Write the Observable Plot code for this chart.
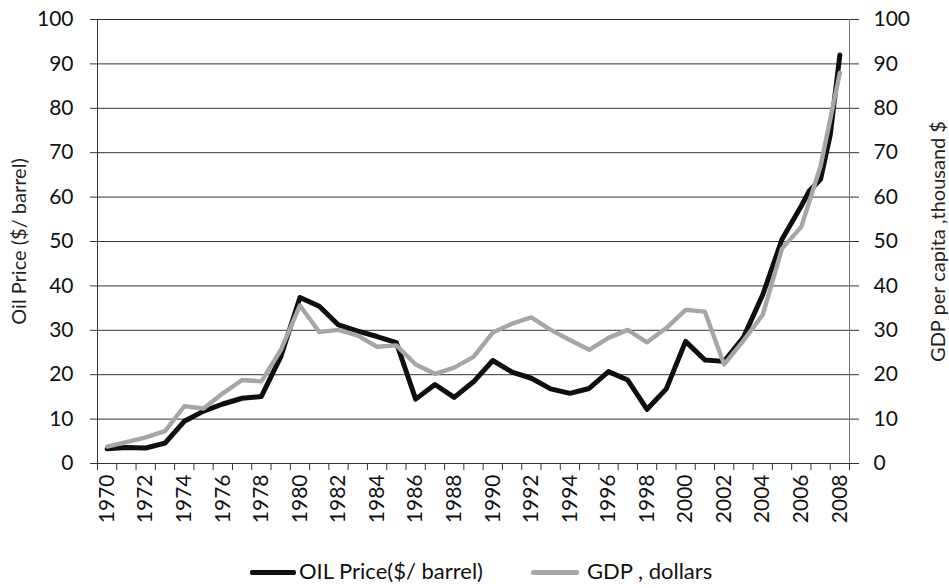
<!DOCTYPE html>
<html>
<head>
<meta charset="utf-8">
<script src="https://cdn.jsdelivr.net/npm/d3@7"></script>
<script src="https://cdn.jsdelivr.net/npm/@observablehq/plot@0.6"></script>
<style>
  html, body { margin: 0; padding: 0; background: #fff; }
  #chart { width: 949px; }
  .legend { position: relative; width: 949px; height: 38px; font-family: Lato, sans-serif; font-size: 22px; color: #111; }
  .legend .sw { position: absolute; top: 20px; height: 5px; border-radius: 2px; }
  .legend .lab { position: absolute; top: 8px; line-height: 26px; white-space: nowrap; }
</style>
</head>
<body>
<div id="chart"></div>
<script>
// ---- data ----
const gdpYears = [1970,1971,1972,1973,1974,1975,1976,1977,1978,1979,1980,1981,1982,1983,1984,1985,1986,1987,1988,1989,1990,1991,1992,1993,1994,1995,1996,1997,1998,1999,2000,2001,2002,2003,2004,2005,2006,2007,2008];
const gdpValues = [3.8,4.8,5.9,7.3,12.9,12.4,15.8,18.8,18.5,25.5,35.6,29.6,30.1,28.8,26.3,26.6,22.3,20.2,21.6,24.0,29.5,31.5,32.9,30.1,27.8,25.6,28.3,30.1,27.3,30.5,34.6,34.2,22.3,27.7,33.5,48.4,53.3,67.0,88.0];
const oilYears = [1970,1971,1972,1973,1974,1975,1976,1977,1978,1979,1980,1981,1982,1983,1984,1985,1986,1987,1988,1989,1990,1991,1992,1993,1994,1995,1996,1997,1998,1999,2000,2001,2002,2003,2004,2005,2006,2006.4,2007,2007.5,2008];
const oilValues = [3.3,3.6,3.5,4.6,9.5,11.8,13.4,14.7,15.1,24.0,37.4,35.4,31.2,29.8,28.6,27.2,14.5,17.8,14.9,18.4,23.2,20.6,19.2,16.8,15.8,16.9,20.7,18.8,12.2,16.8,27.5,23.3,23.0,28.4,38.0,50.5,58.0,61.3,64.0,74.0,92.0];
const yTicks = [0,10,20,30,40,50,60,70,80,90,100];
const xLabelYears = [1970,1972,1974,1976,1978,1980,1982,1984,1986,1988,1990,1992,1994,1996,1998,2000,2002,2004,2006,2008];
const leftTitle = "Oil Price ($/ barrel)";
const rightTitle = "GDP per capita ,thousand $";
const seriesNames = ["OIL Price($/ barrel)", "GDP , dollars"];
const seriesColors = ["#0f0f0f", "#a6a6a6"];

const boundaries = d3.range(1969.5, 2009, 1);

const chart = Plot.plot({
  width: 949,
  height: 550,
  marginLeft: 97,
  marginRight: 100,
  marginTop: 19,
  marginBottom: 87,
  style: { fontFamily: "Lato, sans-serif", fontSize: "21px", color: "#111", background: "#fff" },
  x: { domain: [1969.5, 2008.5] },
  y: { domain: [0, 100], nice: false },
  marks: [
    Plot.gridY(yTicks, { stroke: "#333", strokeOpacity: 1, strokeWidth: 1 }),
    Plot.axisY({ anchor: "left", ticks: yTicks, tickSize: 7, tickPadding: 17, label: null, stroke: "#333" }),
    Plot.axisY({ anchor: "right", ticks: yTicks, tickSize: 9, tickPadding: 15, label: null, stroke: "#333" }),
    Plot.axisX({ ticks: boundaries, tickSize: 7, tickFormat: () => "", label: null, stroke: "#333" }),
    Plot.axisX({ ticks: xLabelYears, tickSize: 0, tickPadding: 11, tickRotate: -90, tickFormat: d => String(d), label: null }),
    Plot.ruleX([1969.5], { y1: 0, y2: 100, stroke: "#333" }),
    Plot.ruleX([2008.5], { y1: 0, y2: 100, stroke: "#777" }),
    Plot.ruleY([0], { stroke: "#333" }),
    Plot.line(oilValues, { x: oilYears, y: oilValues, stroke: seriesColors[0], strokeWidth: 5, strokeLinejoin: "round", strokeLinecap: "round" }),
    Plot.line(gdpValues, { x: gdpYears, y: gdpValues, stroke: seriesColors[1], strokeWidth: 4.4, strokeLinejoin: "round", strokeLinecap: "round" }),
    Plot.text([leftTitle], { frameAnchor: "left", textAnchor: "middle", rotate: -90, dx: -78, fontSize: 20, fill: "#222" }),
    Plot.text([rightTitle], { frameAnchor: "right", textAnchor: "middle", rotate: -90, dx: 89, fontSize: 20, fill: "#222" })
  ]
});
document.getElementById("chart").appendChild(chart);

// legend
const legend = document.createElement("div");
legend.className = "legend";
const items = [
  { name: seriesNames[0], color: seriesColors[0], sx: 250, sw: 46, tx: 299 },
  { name: seriesNames[1], color: seriesColors[1], sx: 531, sw: 48, tx: 587 }
];
items.forEach(it => {
  const s = document.createElement("div");
  s.className = "sw";
  s.style.left = it.sx + "px";
  s.style.width = it.sw + "px";
  s.style.background = it.color;
  legend.appendChild(s);
  const t = document.createElement("div");
  t.className = "lab";
  t.style.left = it.tx + "px";
  t.textContent = it.name;
  legend.appendChild(t);
});
document.body.appendChild(legend);
</script>
</body>
</html>
